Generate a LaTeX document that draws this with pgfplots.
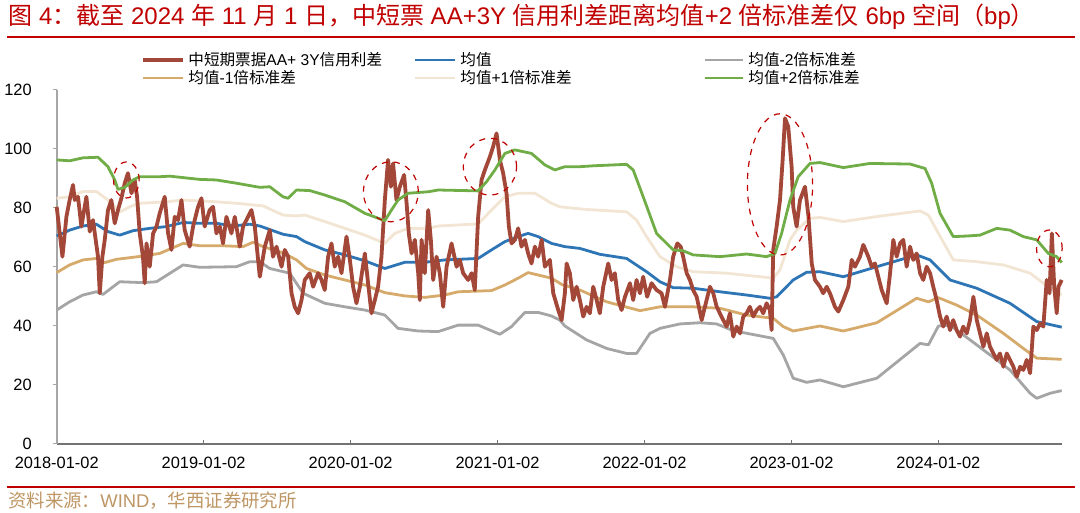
\documentclass[border=0pt]{standalone}
\usepackage{pgfplots}
\pgfplotsset{compat=1.18}
\usepackage{fontspec}
\setmainfont{Liberation Sans}
\newfontfamily\cjk{Noto Sans CJK SC}

\definecolor{spread}{RGB}{163,72,56}
\definecolor{meanc}{RGB}{46,117,182}
\definecolor{m1c}{RGB}{214,170,106}
\definecolor{p1c}{RGB}{242,229,211}
\definecolor{m2c}{RGB}{165,165,165}
\definecolor{p2c}{RGB}{112,173,71}
\definecolor{titlered}{RGB}{192,0,0}
\definecolor{srcc}{RGB}{190,150,100}

% x = years since 2018-01-02
\pgfplotstableread{
x y
0 80.4
0.039 63.5
0.066 77.0
0.088 82.7
0.111 87.8
0.123 82.7
0.145 83.8
0.168 73.7
0.202 83.8
0.225 72.0
0.247 75.9
0.281 63.5
0.293 51.1
0.311 63.5
0.327 69.2
0.349 79.3
0.372 82.7
0.395 74.8
0.417 79.3
0.440 83.3
0.463 88.4
0.485 91.8
0.509 85.0
0.531 89.5
0.547 83.8
0.565 71.4
0.587 63.5
0.599 54.5
0.611 68.0
0.633 60.1
0.656 71.4
0.679 73.7
0.701 78.2
0.735 83.8
0.758 71.4
0.781 65.8
0.803 77.0
0.826 75.9
0.849 82.7
0.871 72.5
0.905 66.9
0.928 73.7
0.962 80.4
0.985 83.3
1.007 73.7
1.041 79.3
1.064 80.4
1.087 71.4
1.110 73.7
1.132 68.0
1.155 77.0
1.189 71.4
1.212 77.0
1.246 66.9
1.268 73.7
1.302 77.0
1.325 79.3
1.348 73.7
1.382 56.7
1.416 66.9
1.450 72.5
1.472 63.5
1.496 66.9
1.530 60.1
1.552 65.8
1.575 63.5
1.598 51.1
1.620 46.5
1.643 44.3
1.666 48.8
1.688 55.6
1.722 57.9
1.745 53.3
1.779 57.9
1.802 55.6
1.824 52.2
1.847 63.5
1.870 68.0
1.892 60.1
1.915 63.5
1.938 57.9
1.972 70.3
1.995 62.4
2.017 53.3
2.040 47.7
2.063 53.3
2.097 64.6
2.119 54.5
2.142 44.3
2.165 48.8
2.187 53.3
2.210 63.5
2.233 82.7
2.255 96.3
2.274 87.2
2.289 95.1
2.312 82.7
2.335 87.2
2.364 91.2
2.381 81.6
2.396 71.4
2.415 64.6
2.437 69.2
2.460 57.9
2.471 48.8
2.483 69.2
2.505 57.9
2.528 79.3
2.546 69.2
2.562 55.6
2.585 63.5
2.607 57.9
2.630 46.5
2.653 60.1
2.687 68.0
2.721 60.1
2.743 62.4
2.766 57.9
2.800 55.6
2.823 57.9
2.845 52.2
2.868 77.0
2.891 89.5
2.914 92.9
2.948 97.4
2.970 100.8
2.993 105.3
3.016 96.3
3.038 91.8
3.061 85.0
3.077 73.7
3.095 68.0
3.118 69.2
3.140 73.1
3.163 66.9
3.186 69.2
3.208 64.6
3.231 61.2
3.254 66.9
3.276 63.5
3.300 69.2
3.322 60.1
3.356 62.4
3.379 51.1
3.413 45.4
3.436 42.0
3.458 51.1
3.470 61.2
3.492 57.9
3.515 48.8
3.538 53.3
3.560 48.8
3.583 43.2
3.606 46.5
3.628 44.3
3.651 53.3
3.674 48.8
3.696 44.3
3.719 53.3
3.753 61.2
3.776 55.6
3.798 57.9
3.821 48.8
3.844 45.4
3.867 49.9
3.901 54.5
3.923 48.8
3.946 55.6
3.969 51.1
3.991 56.7
4.018 49.9
4.048 54.5
4.082 52.2
4.116 51.1
4.139 46.5
4.173 55.6
4.195 63.5
4.223 68.0
4.246 66.9
4.263 63.5
4.287 57.9
4.309 55.6
4.331 52.2
4.355 49.9
4.389 42.0
4.411 46.5
4.445 53.3
4.468 51.1
4.491 46.5
4.513 44.3
4.536 42.0
4.559 39.8
4.581 44.3
4.604 36.4
4.627 39.8
4.650 37.5
4.672 43.2
4.695 44.3
4.717 46.5
4.740 43.2
4.763 45.4
4.786 46.5
4.808 44.3
4.831 47.7
4.853 45.4
4.865 38.6
4.876 65.8
4.899 73.7
4.922 82.7
4.940 96.3
4.956 110.4
4.978 107.6
5.001 94.0
5.012 80.4
5.035 73.7
5.058 82.7
5.092 87.2
5.116 77.0
5.138 61.2
5.160 55.6
5.194 53.3
5.216 51.1
5.240 53.3
5.262 51.1
5.296 46.5
5.319 44.9
5.353 48.8
5.387 53.3
5.410 62.4
5.432 60.1
5.466 63.5
5.489 67.5
5.523 63.5
5.546 60.1
5.568 61.2
5.591 56.7
5.614 52.2
5.648 47.7
5.671 57.9
5.693 69.2
5.716 63.5
5.739 68.0
5.761 69.2
5.784 60.1
5.807 66.9
5.829 62.4
5.852 64.6
5.875 57.9
5.897 55.6
5.920 60.1
5.943 57.9
5.965 53.3
5.988 48.8
6.011 43.2
6.033 39.8
6.056 43.2
6.079 38.6
6.101 42.0
6.124 38.6
6.147 36.4
6.169 39.8
6.193 37.5
6.215 42.0
6.238 49.9
6.261 42.0
6.283 37.5
6.306 33.0
6.329 37.5
6.351 33.0
6.374 30.7
6.397 28.5
6.419 30.7
6.442 26.2
6.465 30.7
6.487 28.5
6.510 26.2
6.533 22.8
6.556 26.2
6.578 25.1
6.601 28.5
6.624 24.0
6.635 31.9
6.646 39.8
6.669 38.6
6.692 40.9
6.714 39.8
6.737 55.6
6.756 51.1
6.772 71.4
6.788 53.3
6.805 44.3
6.817 53.3
6.839 55.6
}\spreadtbl

\pgfplotstableread{
x y
0 70.5
0.088 72.5
0.179 73.9
0.270 74.5
0.349 72.0
0.429 70.8
0.519 72.3
0.633 73.1
0.746 73.7
0.860 75.1
0.973 74.8
1.087 74.8
1.200 73.9
1.314 74.5
1.382 73.9
1.540 71.1
1.632 70.3
1.688 68.6
1.824 65.8
1.961 64.1
2.097 62.1
2.233 59.5
2.369 61.6
2.505 61.6
2.641 62.4
2.868 62.9
2.959 65.8
3.050 68.6
3.140 70.3
3.208 71.4
3.276 70.3
3.367 68.0
3.458 66.9
3.560 66.3
3.696 64.3
3.878 62.9
4.014 58.4
4.105 55.0
4.195 53.0
4.331 52.8
4.513 51.6
4.695 50.5
4.854 49.4
4.899 49.9
5.012 55.6
5.103 58.2
5.194 58.4
5.353 56.7
5.581 60.1
5.852 64.1
5.943 62.4
6.079 55.6
6.261 52.8
6.487 47.7
6.669 41.5
6.839 39.6
}\meantbl

\pgfplotstableread{
x y
0 58.1
0.088 60.7
0.179 62.4
0.270 62.9
0.327 61.5
0.406 62.6
0.587 63.7
0.701 64.6
0.860 68.0
0.973 67.2
1.132 67.2
1.268 66.9
1.336 68.4
1.404 66.9
1.540 64.8
1.632 62.4
1.700 59.5
1.824 57.3
1.961 55.6
2.097 53.9
2.233 51.3
2.369 50.2
2.505 49.7
2.641 50.5
2.732 51.6
2.959 52.0
3.050 53.9
3.140 56.2
3.208 58.1
3.367 56.2
3.440 54.0
3.560 52.2
3.742 48.2
3.969 45.2
4.105 46.5
4.331 46.5
4.513 46.0
4.695 43.7
4.876 42.6
4.944 39.8
5.012 38.3
5.194 40.0
5.353 38.3
5.581 41.1
5.852 49.4
5.932 48.2
6.000 49.6
6.124 47.1
6.261 43.7
6.442 37.5
6.578 32.4
6.669 29.1
6.839 28.7
}\monetbl

\pgfplotstableread{
x y
0 83.3
0.088 83.8
0.179 85.6
0.270 85.6
0.349 82.7
0.429 78.7
0.497 80.4
0.565 81.6
0.747 82.1
0.860 82.7
1.087 82.1
1.223 81.6
1.405 80.7
1.540 77.6
1.632 77.3
1.688 77.6
1.824 75.4
1.961 73.1
2.097 70.8
2.233 68.0
2.301 71.4
2.391 73.1
2.528 73.1
2.596 73.9
2.868 74.6
2.959 79.3
3.050 83.8
3.140 85.0
3.254 85.0
3.367 81.6
3.424 80.4
3.605 79.5
3.878 78.7
3.946 75.9
4.014 70.3
4.105 63.5
4.218 60.1
4.331 58.4
4.559 57.9
4.786 56.7
4.876 56.2
4.922 59.0
4.990 69.2
5.035 72.5
5.126 76.5
5.194 76.8
5.353 75.4
5.581 77.1
5.875 79.0
5.932 77.6
5.988 72.5
6.101 62.4
6.261 61.8
6.442 60.7
6.624 57.9
6.714 54.5
6.805 51.6
6.839 50.5
}\poneTbl

\pgfplotstableread{
x y
0 45.4
0.088 48.2
0.179 50.5
0.270 51.6
0.315 50.7
0.429 55.0
0.587 54.7
0.679 55.0
0.860 60.7
0.973 59.9
1.223 60.1
1.314 61.8
1.382 61.8
1.450 59.5
1.586 57.9
1.677 51.1
1.824 47.7
1.961 46.5
2.097 45.4
2.233 43.7
2.323 39.2
2.460 38.3
2.596 38.1
2.732 40.3
2.868 40.3
3.016 37.2
3.095 39.8
3.186 44.6
3.276 44.6
3.367 43.4
3.424 42.0
3.458 40.0
3.605 35.3
3.742 32.4
3.878 30.7
3.946 30.7
4.037 37.5
4.105 39.2
4.241 40.7
4.377 41.1
4.491 40.7
4.604 38.4
4.876 35.8
4.944 30.2
5.012 22.3
5.103 20.9
5.194 21.7
5.353 19.4
5.581 22.3
5.875 34.1
5.932 33.6
6.000 40.0
6.079 40.3
6.215 35.3
6.351 30.2
6.487 25.1
6.624 17.2
6.669 15.5
6.760 17.2
6.839 18.1
}\mtwotbl

\pgfplotstableread{
x y
0 96.3
0.088 96.0
0.179 97.0
0.281 97.2
0.349 94.0
0.395 89.5
0.417 86.3
0.463 87.0
0.519 89.5
0.565 90.6
0.701 90.6
0.769 90.8
0.860 90.3
0.973 89.7
1.087 89.5
1.223 88.4
1.382 87.0
1.450 87.2
1.540 83.8
1.575 83.3
1.632 86.1
1.722 85.9
1.824 84.4
1.961 82.1
2.097 78.2
2.233 75.7
2.278 79.3
2.323 82.7
2.391 85.0
2.528 85.5
2.596 86.1
2.868 85.8
2.925 88.9
2.982 92.9
3.050 98.5
3.118 99.7
3.231 98.5
3.322 94.6
3.390 92.9
3.458 94.0
3.560 94.0
3.651 94.3
3.878 94.8
3.923 92.9
3.991 83.8
4.082 71.4
4.195 65.8
4.263 65.5
4.331 64.1
4.513 63.5
4.695 64.4
4.831 63.5
4.888 64.6
4.933 71.4
4.990 82.7
5.046 90.6
5.126 95.1
5.194 95.4
5.353 93.7
5.534 95.1
5.807 94.9
5.909 93.4
5.954 88.4
6.011 78.2
6.101 70.3
6.193 70.5
6.283 70.8
6.397 73.1
6.487 72.5
6.578 70.3
6.669 69.2
6.748 64.6
6.805 63.5
6.839 61.5
}\ptwotbl

\begin{document}
\begin{tikzpicture}
\useasboundingbox (-28.35pt,-34.5pt) rectangle (511.65pt,222pt);
\begin{axis}[
  at={(0,0)}, anchor=south west,
  scale only axis, width=502.5pt, height=177pt,
  xmin=0, xmax=6.839, ymin=0, ymax=120,
  ytick={0,20,...,120},
  xtick={0,1,2,3,4,5,6},
  xticklabels={2018-01-02,2019-01-02,2020-01-02,2021-01-02,2022-01-02,2023-01-02,2024-01-02},
  axis x line*=bottom, axis y line*=left,
  x axis line style={draw=black!55, line width=0.6pt},
  y axis line style={draw=black!35, line width=0.8pt},
  x tick style={draw=black!55, line width=0.5pt},
  y tick style={draw=black!35, line width=0.5pt},
  xtick align=inside, ytick align=outside,
  major tick length=2pt,
  tick label style={font=\fontsize{8.2}{9}\selectfont, text=black},
  /pgf/number format/assume math mode=true,
  yticklabel style={xshift=-7pt},
  xticklabel style={yshift=-3pt},
  clip=false,
  every axis plot/.append style={line join=round},
]
\addplot[p1c, line width=1.4pt] table {\poneTbl};
\addplot[m2c, line width=1.4pt] table {\mtwotbl};
\addplot[m1c, line width=1.4pt] table {\monetbl};
\addplot[meanc, line width=1.4pt] table {\meantbl};
\addplot[spread, line width=1.9pt] table {\spreadtbl};
\addplot[p2c, line width=1.4pt] table {\ptwotbl};
% dashed highlight ellipses
\draw[titlered, dashed, line width=0.6pt] (axis cs:0.474,89.5) ellipse [x radius=6.4pt, y radius=9pt];
\draw[titlered, dashed, line width=0.6pt] (axis cs:2.274,85.5) ellipse [x radius=13.7pt, y radius=15pt];
\draw[titlered, dashed, line width=0.6pt] (axis cs:2.948,94) ellipse [x radius=13.3pt, y radius=14.2pt];
\draw[titlered, dashed, line width=0.6pt] (axis cs:4.922,88) ellipse [x radius=16.3pt, y radius=35.3pt];
\draw[titlered, dashed, line width=0.6pt] (axis cs:6.755,66.3) ellipse [x radius=6.4pt, y radius=9.2pt];
\end{axis}

% title
\node[anchor=base west, inner sep=0pt, text=titlered, font=\fontsize{12}{14}\selectfont] at (-24.35pt,209.8pt)
  {{\cjk 图}~4{\cjk ：截至}~2024~{\cjk 年}~11~{\cjk 月}~1~{\cjk 日，中短票}~AA+3Y~{\cjk 信用利差距离均值}+2~{\cjk 倍标准差仅}~6bp~{\cjk 空间（}bp{\cjk ）}};
\draw[titlered, line width=1pt] (-24.85pt,203.5pt) -- (509.15pt,203.5pt);
\draw[titlered, line width=1pt] (-24.85pt,-21.5pt) -- (509.15pt,-21.5pt);
\node[anchor=base west, inner sep=0pt, text=srcc, font=\fontsize{9.2}{11}\selectfont] at (-24.35pt,-31.5pt)
  {{\cjk 资料来源：}WIND{\cjk ，华西证券研究所}};

% legend
\begin{scope}[every node/.style={anchor=west, inner sep=0pt, font=\fontsize{7.8}{9}\selectfont}]
\draw[spread, line width=1.9pt] (43.15pt,192pt) -- (63.15pt,192pt);
\node at (65.65pt,192pt) {{\cjk 中短期票据}AA+ 3Y{\cjk 信用利差}};
\draw[meanc, line width=1.4pt] (179.15pt,192pt) -- (199.15pt,192pt);
\node at (201.65pt,192pt) {{\cjk 均值}};
\draw[m2c, line width=1.4pt] (324.15pt,192pt) -- (343.15pt,192pt);
\node at (345.65pt,192pt) {{\cjk 均值}-2{\cjk 倍标准差}};
\draw[m1c, line width=1.4pt] (43.15pt,183pt) -- (63.15pt,183pt);
\node at (65.65pt,183pt) {{\cjk 均值}-1{\cjk 倍标准差}};
\draw[p1c, line width=1.4pt] (179.15pt,183pt) -- (199.15pt,183pt);
\node at (201.65pt,183pt) {{\cjk 均值}+1{\cjk 倍标准差}};
\draw[p2c, line width=1.4pt] (324.15pt,183pt) -- (343.15pt,183pt);
\node at (345.65pt,183pt) {{\cjk 均值}+2{\cjk 倍标准差}};
\end{scope}
\end{tikzpicture}
\end{document}
